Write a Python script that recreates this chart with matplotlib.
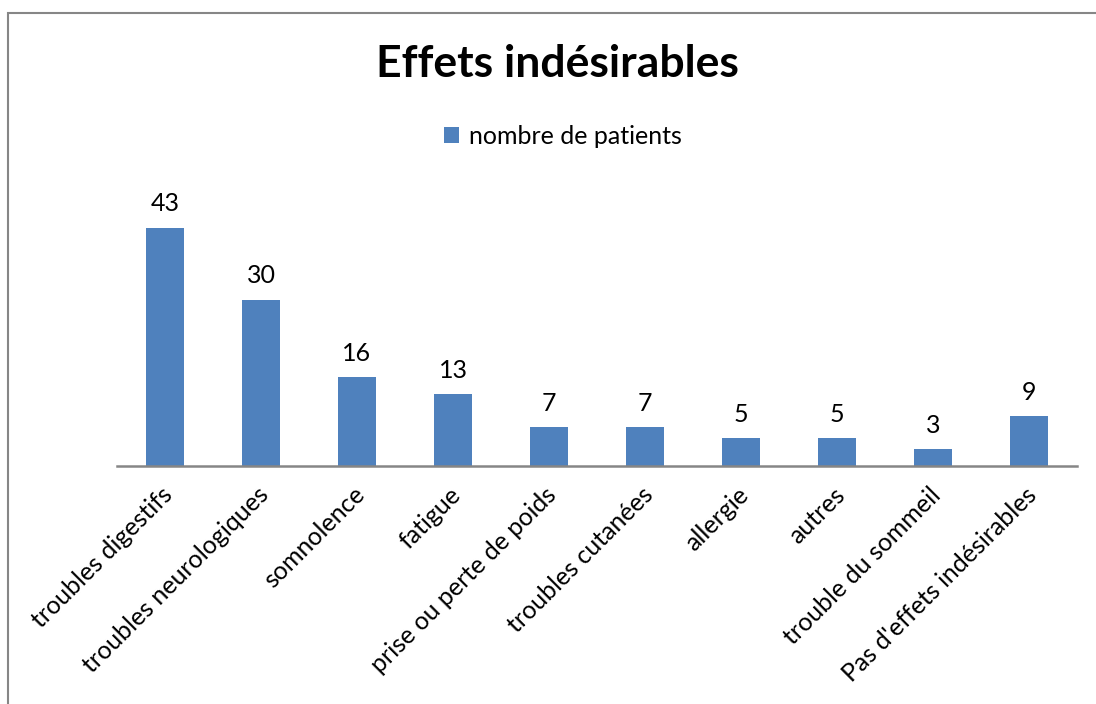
import matplotlib
matplotlib.use("Agg")
import matplotlib.pyplot as plt
import matplotlib.transforms as mtransforms
from matplotlib.patches import Rectangle

categories = ["troubles digestifs", "troubles neurologiques", "somnolence", "fatigue",
              "prise ou perte de poids", "troubles cutanées", "allergie", "autres",
              "trouble du sommeil", "Pas d'effets indésirables"]
patients = [43, 30, 16, 13, 7, 7, 5, 5, 3, 9]

plt.rcParams['font.family'] = ['Lato', 'DejaVu Sans']

W, H = 1096, 704
fig = plt.figure(figsize=(W / 100, H / 100), dpi=100)
fig.patch.set_facecolor("white")

# chart border (cut off on the right and bottom)
fig.patches.append(Rectangle((8 / W, -0.1), 1.2, (H - 13) / H + 0.1,
                             transform=fig.transFigure, fill=False,
                             edgecolor="#868686", linewidth=1.5))

# axes: baseline at y=466 px, 96 px per category
ax = fig.add_axes([117 / W, (H - 466) / H, 960 / W, 50 * 5.535 / H])
x = list(range(len(categories)))
bars = ax.bar(x, patients, width=0.4, color="#4F81BD", label="nombre de patients")
ax.set_xlim(-0.5, len(categories) - 0.5)
ax.set_ylim(0, 50)

for s in ["top", "right", "left"]:
    ax.spines[s].set_visible(False)
ax.spines["bottom"].set_color("#868686")
ax.spines["bottom"].set_linewidth(1.8)
ax.set_yticks([])

ax.set_xticks(x)
ax.set_xticklabels(categories, rotation=45, ha="right", va="center",
                   rotation_mode="anchor", fontsize=18)
ax.tick_params(axis="x", length=0, pad=18)
offset = mtransforms.ScaledTranslation(4 / 100, 0, fig.dpi_scale_trans)
for lab in ax.get_xticklabels():
    lab.set_transform(lab.get_transform() + offset)

for b, v in zip(bars, patients):
    ax.annotate(str(v), (b.get_x() + b.get_width() / 2, v), xytext=(0, 9),
                textcoords="offset points", ha="center", va="bottom", fontsize=18)

fig.text(557 / W, 1 - 77 / H, "Effets indésirables", ha="center", va="baseline",
         fontsize=32, fontweight="bold")

fig.legend(handles=[bars], loc="center", bbox_to_anchor=(563 / W, 1 - 136 / H),
           frameon=False, fontsize=18, handlelength=0.6, handleheight=0.6,
           handletextpad=0.4)

fig.savefig("out.png", dpi=100)
